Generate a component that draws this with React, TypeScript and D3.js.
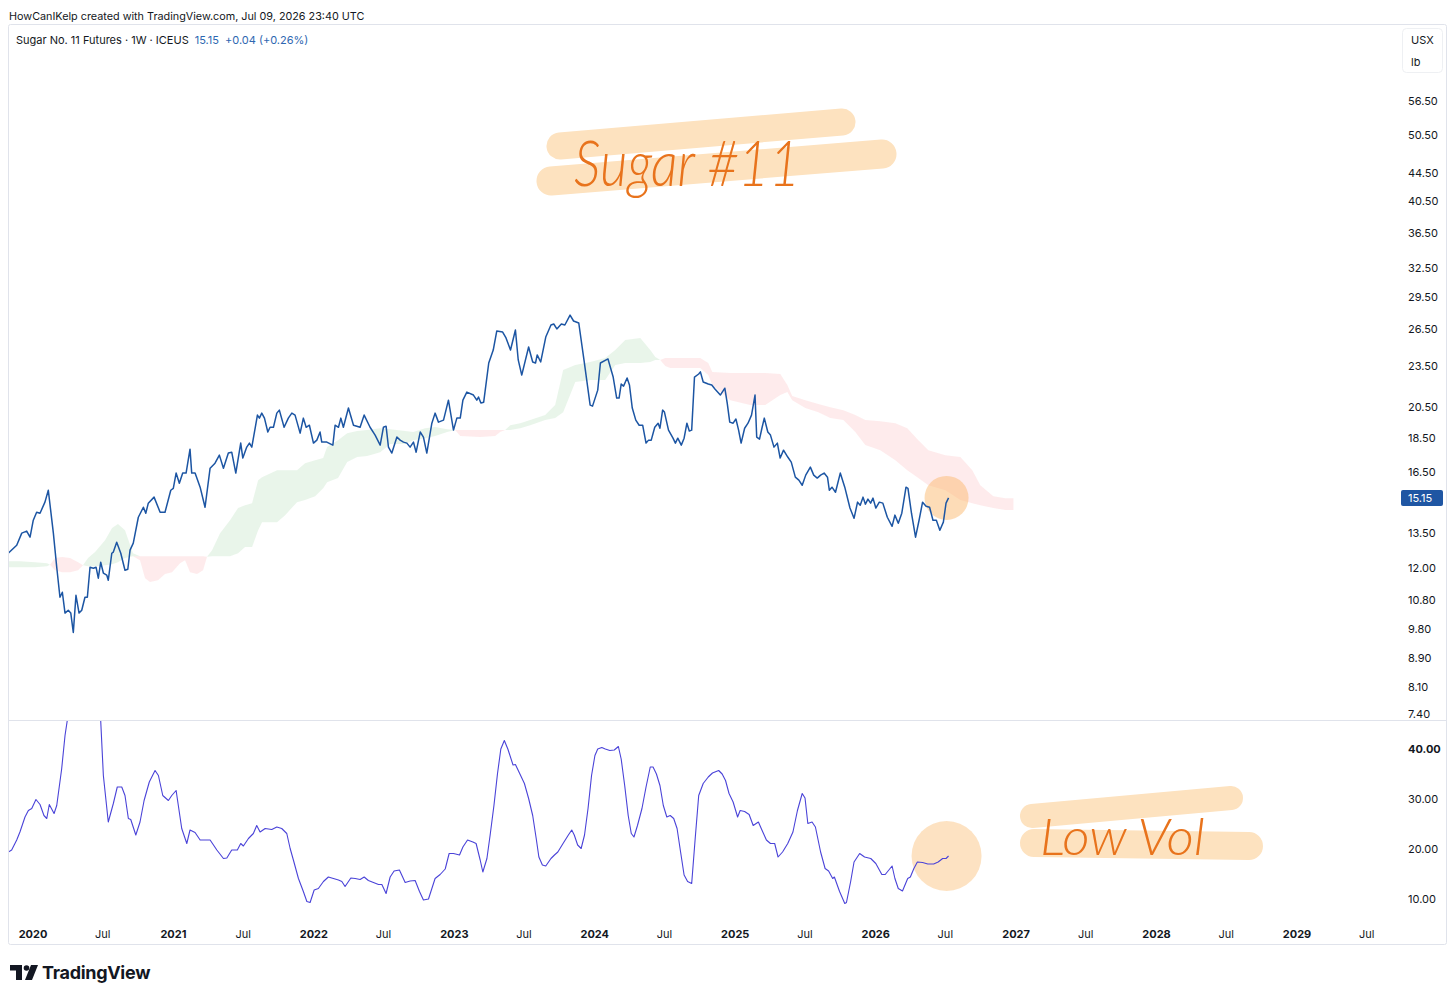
import React from 'react';
import * as d3 from 'd3';

// ---------- DATA ----------
// Weekly close, Sugar No. 11 (time as decimal year)
const priceT = [
  2019.824, 2019.884, 2019.920, 2019.955, 2019.979, 2020.002, 2020.026, 2020.050, 2020.085, 2020.109,
  2020.145, 2020.169, 2020.192, 2020.209, 2020.228, 2020.251, 2020.269, 2020.287, 2020.306, 2020.328,
  2020.347, 2020.370, 2020.387, 2020.406, 2020.430, 2020.449, 2020.465, 2020.482, 2020.501, 2020.525,
  2020.536, 2020.561, 2020.572, 2020.596, 2020.625, 2020.655, 2020.675, 2020.691, 2020.714, 2020.750,
  2020.786, 2020.803, 2020.821, 2020.862, 2020.905, 2020.940, 2020.981, 2020.999, 2021.019, 2021.042,
  2021.066, 2021.090, 2021.118, 2021.130, 2021.154, 2021.190, 2021.225, 2021.261, 2021.296, 2021.327,
  2021.356, 2021.391, 2021.415, 2021.444, 2021.479, 2021.494, 2021.522, 2021.541, 2021.558, 2021.598,
  2021.612, 2021.629, 2021.648, 2021.672, 2021.688, 2021.712, 2021.736, 2021.754, 2021.788, 2021.818,
  2021.843, 2021.866, 2021.902, 2021.925, 2021.945, 2021.968, 2021.997, 2022.021, 2022.044, 2022.056,
  2022.092, 2022.135, 2022.151, 2022.175, 2022.192, 2022.210, 2022.246, 2022.282, 2022.329, 2022.358,
  2022.400, 2022.436, 2022.472, 2022.495, 2022.514, 2022.531, 2022.555, 2022.591, 2022.614, 2022.638,
  2022.662, 2022.685, 2022.709, 2022.728, 2022.757, 2022.780, 2022.804, 2022.840, 2022.863, 2022.887,
  2022.923, 2022.958, 2022.994, 2023.018, 2023.042, 2023.061, 2023.089, 2023.136, 2023.160, 2023.172,
  2023.189, 2023.209, 2023.245, 2023.277, 2023.302, 2023.344, 2023.368, 2023.400, 2023.435, 2023.455,
  2023.480, 2023.529, 2023.558, 2023.578, 2023.590, 2023.615, 2023.651, 2023.688, 2023.708, 2023.730,
  2023.762, 2023.787, 2023.824, 2023.849, 2023.886, 2023.923, 2023.967, 2023.984, 2024.021, 2024.040,
  2024.094, 2024.131, 2024.156, 2024.173, 2024.188, 2024.205, 2024.230, 2024.247, 2024.267, 2024.292,
  2024.316, 2024.341, 2024.365, 2024.383, 2024.402, 2024.427, 2024.451, 2024.464, 2024.483, 2024.496,
  2024.525, 2024.557, 2024.574, 2024.591, 2024.616, 2024.636, 2024.656, 2024.673, 2024.690, 2024.710,
  2024.740, 2024.752, 2024.772, 2024.808, 2024.833, 2024.857, 2024.894, 2024.926, 2024.943, 2024.961,
  2024.985, 2025.005, 2025.024, 2025.042, 2025.067, 2025.091, 2025.116, 2025.141, 2025.153, 2025.173,
  2025.190, 2025.207, 2025.232, 2025.251, 2025.276, 2025.300, 2025.320, 2025.344, 2025.374, 2025.399,
  2025.428, 2025.453, 2025.477, 2025.502, 2025.535, 2025.559, 2025.584, 2025.608, 2025.633, 2025.657,
  2025.670, 2025.689, 2025.714, 2025.748, 2025.780, 2025.817, 2025.846, 2025.871, 2025.890, 2025.910,
  2025.927, 2025.945, 2025.964, 2025.981, 2026.001, 2026.026, 2026.051, 2026.083, 2026.117, 2026.137,
  2026.161, 2026.186, 2026.216, 2026.230, 2026.255, 2026.284, 2026.309, 2026.334, 2026.359, 2026.384,
  2026.408, 2026.432, 2026.457, 2026.482, 2026.501, 2026.519,
];
const priceV = [
  12.61, 12.95, 13.48, 13.57, 13.30, 14.07, 14.45, 14.40, 14.94, 15.54,
  13.48, 12.04, 10.90, 11.08, 10.34, 10.44, 10.34, 9.70, 10.97, 10.34,
  10.44, 10.90, 10.90, 12.04, 12.00, 12.04, 11.61, 12.24, 11.81, 11.73,
  11.53, 12.61, 12.66, 13.08, 12.61, 11.92, 11.96, 12.74, 13.04, 14.21,
  14.69, 14.40, 14.89, 15.19, 14.45, 14.45, 15.54, 15.64, 16.45, 15.91,
  16.45, 16.45, 17.81, 16.45, 16.45, 15.70, 14.69, 16.72, 17.00, 17.46,
  16.72, 17.58, 17.63, 16.45, 18.17, 17.29, 17.93, 18.17, 17.93, 19.94,
  19.74, 20.07, 19.74, 18.85, 19.15, 19.15, 20.07, 20.27, 19.15, 19.74,
  20.07, 19.94, 18.78, 19.74, 19.15, 19.28, 18.17, 18.35, 18.85, 18.23,
  18.23, 18.05, 19.28, 19.15, 19.74, 19.15, 20.41, 19.28, 19.15, 19.94,
  19.15, 18.66, 18.05, 19.15, 19.22, 17.93, 17.58, 18.54, 18.35, 18.23,
  18.17, 17.93, 18.23, 17.63, 18.85, 18.54, 17.58, 19.41, 20.07, 19.48,
  19.61, 20.95, 18.97, 19.74, 19.74, 20.95, 21.52, 21.31, 20.95, 21.17,
  20.75, 20.81, 23.70, 24.74, 26.35, 26.26, 25.75, 24.74, 26.44, 23.94,
  22.77, 24.99, 23.78, 23.70, 24.34, 23.78, 25.83, 26.88, 26.97, 26.53,
  26.97, 26.88, 27.78, 27.24, 27.06, 23.94, 20.61, 20.54, 21.66, 23.70,
  24.02, 22.62, 21.10, 21.10, 22.10, 21.95, 22.55, 22.03, 20.41, 19.61,
  19.28, 19.28, 18.17, 18.35, 18.35, 19.15, 19.41, 19.09, 20.27, 20.14,
  18.97, 18.47, 18.17, 18.47, 18.05, 18.47, 19.41, 18.91, 18.97, 22.62,
  22.85, 23.01, 22.25, 22.10, 22.03, 21.73, 21.31, 21.80, 20.75, 19.48,
  19.41, 19.68, 18.97, 18.17, 19.09, 19.41, 19.94, 21.31, 18.54, 18.41,
  19.09, 19.74, 18.85, 18.66, 17.93, 18.17, 17.29, 17.75, 17.35, 17.06,
  16.23, 16.07, 15.80, 16.34, 16.78, 16.34, 16.18, 16.34, 16.45, 16.23,
  15.54, 15.70, 15.44, 16.45, 15.70, 14.65, 14.16, 14.94, 14.79, 15.19,
  14.84, 15.09, 14.89, 15.14, 14.65, 14.94, 14.89, 14.21, 13.79, 14.31,
  13.93, 14.40, 15.70, 15.64, 14.40, 13.30, 14.07, 14.94, 14.74, 14.69,
  14.07, 14.07, 13.61, 13.98, 14.89, 15.15,
];

// Ichimoku cloud (Senkou span A / B), projected 26 weeks ahead
const cloudT = [
  2019.822, 2019.907, 2020.014, 2020.100, 2020.121, 2020.157, 2020.207, 2020.264, 2020.321, 2020.356,
  2020.392, 2020.442, 2020.513, 2020.563, 2020.605, 2020.655, 2020.712, 2020.762, 2020.798, 2020.833,
  2020.890, 2020.940, 2020.990, 2021.047, 2021.083, 2021.118, 2021.168, 2021.211, 2021.239,
  2021.275, 2021.332, 2021.403, 2021.460, 2021.510, 2021.560, 2021.603, 2021.631, 2021.738, 2021.795,
  2021.880, 2021.937, 2022.009, 2022.066, 2022.094, 2022.172, 2022.237, 2022.308, 2022.379, 2022.472,
  2022.543, 2022.650, 2022.707, 2022.792, 2022.863, 2022.949, 2023.006,
  2023.042, 2023.184, 2023.291, 2023.326, 2023.362, 2023.398, 2023.469, 2023.540, 2023.647, 2023.718,
  2023.775, 2023.861, 2023.968, 2024.074, 2024.146, 2024.217, 2024.324, 2024.395, 2024.431, 2024.466,
  2024.502, 2024.537, 2024.751, 2024.808, 2024.837, 2024.965, 2025.107, 2025.214, 2025.321, 2025.371,
  2025.406, 2025.499, 2025.592, 2025.677, 2025.770, 2025.855, 2025.926, 2026.033, 2026.140, 2026.225,
  2026.304, 2026.375, 2026.496, 2026.603, 2026.688, 2026.745, 2026.838, 2026.924, 2026.981,
];
const spanA = [
  12.28, 12.28, 12.24, 12.20, 12.14, 11.92, 11.84, 11.84, 11.92, 12.12,
  12.41, 12.66, 13.17, 13.71, 13.89, 13.61, 12.61, 12.32, 11.61, 11.46,
  11.53, 11.77, 11.84, 12.20, 12.32, 11.84, 11.77, 11.92, 12.47,
  12.74, 13.48, 14.07, 14.65, 14.79, 14.89, 16.07, 16.23, 16.61, 16.61,
  16.61, 17.00, 17.17, 17.29, 17.93, 18.35, 18.78, 18.91, 18.97, 19.09,
  19.03, 18.91, 18.85, 19.09, 19.16, 19.03, 18.97,
  18.60, 18.54, 18.60, 18.85, 18.97, 19.28, 19.41, 19.61, 19.94, 20.61,
  23.16, 23.54, 23.78, 24.09, 24.74, 25.58, 25.74, 24.74, 24.17, 23.94,
  23.46, 23.30, 23.30, 22.77, 22.03, 20.95, 20.61, 20.61, 21.31, 21.52,
  20.95, 20.41, 20.13, 19.74, 19.61, 18.85, 18.05, 17.75, 17.17, 16.61,
  16.18, 15.80, 15.54, 15.04, 14.89, 14.79, 14.65, 14.55, 14.55,
];
const spanB = [
  12.04, 12.04, 12.04, 12.08, 12.14, 12.41, 12.45, 12.41, 12.24, 12.12,
  12.08, 12.08, 12.12, 12.16, 12.24, 12.41, 12.49, 12.49, 12.49, 12.49,
  12.49, 12.49, 12.49, 12.49, 12.49, 12.49, 12.49, 12.49, 12.47,
  12.49, 12.49, 12.49, 12.61, 12.87, 12.87, 13.61, 13.98, 13.98, 14.31,
  14.94, 15.04, 15.24, 15.65, 15.96, 16.18, 17.06, 17.35, 17.41, 17.63,
  18.11, 18.11, 18.35, 18.47, 18.60, 18.85, 18.97,
  18.97, 18.97, 18.97, 18.97, 18.97, 18.97, 19.09, 19.28, 19.61, 19.74,
  20.13, 22.25, 22.40, 22.40, 23.54, 23.70, 23.70, 23.78, 23.94, 23.94,
  24.09, 24.09, 24.09, 23.70, 23.00, 22.92, 22.92, 22.92, 22.85, 22.03,
  21.24, 20.95, 20.68, 20.47, 20.27, 19.94, 19.61, 19.54, 19.41, 19.09,
  18.35, 17.75, 17.46, 17.35, 16.61, 15.80, 15.24, 15.14, 15.14,
];

// Historical volatility (lower pane)
const volT = [
  2019.824, 2019.848, 2019.884, 2019.907, 2019.943, 2019.967, 2019.991, 2020.021, 2020.050, 2020.078,
  2020.098, 2020.116, 2020.150, 2020.169, 2020.204, 2020.228, 2020.244, 2020.278, 2020.335, 2020.392,
  2020.442, 2020.482, 2020.501, 2020.536, 2020.572, 2020.600, 2020.632, 2020.655, 2020.679, 2020.696,
  2020.732, 2020.762, 2020.791, 2020.828, 2020.869, 2020.893, 2020.924, 2020.964, 2020.988, 2021.019,
  2021.059, 2021.095, 2021.118, 2021.154, 2021.190, 2021.261, 2021.309, 2021.356, 2021.380, 2021.415,
  2021.455, 2021.479, 2021.498, 2021.534, 2021.569, 2021.593, 2021.617, 2021.653, 2021.700, 2021.736,
  2021.771, 2021.807, 2021.831, 2021.854, 2021.890, 2021.925, 2021.950, 2021.973, 2022.002, 2022.032,
  2022.068, 2022.103, 2022.139, 2022.175, 2022.199, 2022.222, 2022.263, 2022.294, 2022.329, 2022.358,
  2022.388, 2022.424, 2022.460, 2022.484, 2022.514, 2022.543, 2022.571, 2022.609, 2022.650, 2022.685,
  2022.721, 2022.752, 2022.780, 2022.816, 2022.863, 2022.899, 2022.935, 2022.963, 2022.994, 2023.037,
  2023.061, 2023.094, 2023.132, 2023.155, 2023.184, 2023.203, 2023.232, 2023.255, 2023.282, 2023.307,
  2023.331, 2023.356, 2023.381, 2023.418, 2023.435, 2023.467, 2023.499, 2023.529, 2023.558, 2023.583,
  2023.602, 2023.627, 2023.651, 2023.688, 2023.713, 2023.737, 2023.774, 2023.812, 2023.836, 2023.854,
  2023.878, 2023.903, 2023.927, 2023.952, 2023.977, 2024.001, 2024.021, 2024.050, 2024.075, 2024.107,
  2024.139, 2024.168, 2024.188, 2024.213, 2024.238, 2024.260, 2024.279, 2024.304, 2024.336, 2024.365,
  2024.395, 2024.415, 2024.439, 2024.464, 2024.488, 2024.513, 2024.537, 2024.562, 2024.586, 2024.611,
  2024.636, 2024.661, 2024.690, 2024.715, 2024.740, 2024.772, 2024.808, 2024.838, 2024.882, 2024.907,
  2024.931, 2024.956, 2024.985, 2025.017, 2025.035, 2025.067, 2025.099, 2025.128, 2025.165, 2025.190,
  2025.222, 2025.251, 2025.281, 2025.305, 2025.337, 2025.374, 2025.411, 2025.443, 2025.477, 2025.497,
  2025.517, 2025.547, 2025.571, 2025.608, 2025.640, 2025.665, 2025.694, 2025.706, 2025.743, 2025.780,
  2025.792, 2025.822, 2025.846, 2025.886, 2025.921, 2025.965, 2026.001, 2026.044, 2026.068, 2026.117,
  2026.137, 2026.161, 2026.191, 2026.228, 2026.247, 2026.272, 2026.297, 2026.334, 2026.371, 2026.413,
  2026.445, 2026.477, 2026.501, 2026.519,
];
const volV = [
  19.4, 19.8, 21.8, 23.4, 26.4, 27.7, 28.1, 29.9, 28.9, 26.7,
  26.1, 28.9, 27.1, 28.7, 36.0, 42.7, 45.7, 55.0, 62.0, 58.0,
  52.0, 45.7, 34.7, 25.4, 29.1, 32.4, 32.4, 30.7, 26.1, 25.9,
  22.8, 25.4, 29.7, 33.4, 35.7, 34.7, 30.7, 29.7, 30.7, 31.7,
  24.1, 21.1, 23.8, 23.3, 21.8, 21.8, 19.8, 18.1, 18.2, 19.8,
  19.8, 21.1, 20.6, 22.1, 23.1, 24.7, 23.4, 24.1, 23.9, 24.4,
  24.1, 23.1, 20.1, 17.8, 14.1, 11.5, 9.5, 9.3, 11.8, 12.1,
  13.5, 14.4, 14.1, 13.8, 13.5, 12.5, 14.2, 14.1, 13.9, 14.4,
  13.7, 13.3, 12.9, 12.9, 11.1, 14.4, 15.6, 15.8, 13.3, 13.6,
  13.7, 11.5, 9.8, 10.0, 14.1, 14.9, 16.0, 19.1, 19.1, 18.8,
  20.4, 21.8, 21.4, 21.1, 17.8, 15.4, 18.1, 22.8, 28.7, 35.0,
  40.0, 41.7, 40.0, 36.8, 36.9, 35.0, 33.1, 30.1, 26.7, 22.1,
  18.4, 16.8, 16.6, 18.1, 18.8, 19.4, 21.1, 22.8, 23.8, 22.8,
  20.8, 20.1, 22.8, 28.1, 34.7, 38.7, 40.0, 40.3, 40.0, 39.7,
  39.8, 40.5, 38.0, 32.7, 26.7, 23.1, 22.4, 24.7, 28.1, 32.4,
  36.4, 36.4, 35.0, 32.7, 28.7, 26.4, 26.7, 26.1, 24.1, 19.4,
  14.8, 13.5, 13.1, 22.1, 30.7, 33.1, 34.4, 35.2, 35.7, 35.0,
  33.7, 31.1, 29.4, 26.4, 27.7, 27.5, 26.9, 24.7, 25.4, 23.8,
  21.8, 21.1, 21.1, 18.4, 19.4, 21.1, 23.4, 27.7, 31.1, 30.2,
  25.1, 25.4, 24.4, 19.4, 16.1, 15.6, 14.1, 14.4, 11.5, 9.1,
  9.3, 13.5, 17.4, 19.1, 18.4, 18.1, 17.1, 14.9, 14.9, 16.6,
  14.1, 12.1, 11.6, 14.1, 14.4, 16.1, 17.4, 17.3, 17.0, 17.0,
  17.4, 18.1, 18.1, 18.6,
];

const priceTicks = [56.5, 50.5, 44.5, 40.5, 36.5, 32.5, 29.5, 26.5, 23.5, 20.5, 18.5, 16.5, 13.5, 12.0, 10.8, 9.8, 8.9, 8.1, 7.4];
const volTicks = [40, 30, 20, 10];
const yearTicks = [2020, 2021, 2022, 2023, 2024, 2025, 2026, 2027, 2028, 2029];
const julTicks = [2020, 2021, 2022, 2023, 2024, 2025, 2026, 2027, 2028, 2029];
const lastPrice = 15.15;

// ---------- SCALES ----------
const xS = d3.scaleLinear().domain([2020, 2029]).range([33, 1297]);
const yP = d3.scaleLog().domain([7.4, 56.5]).range([714, 101]);
const yV = d3.scaleLinear().domain([10, 40]).range([899, 749]);

const FONT = 'Inter, Roboto, "Liberation Sans", Arial, sans-serif';
const HAND = 'Lato, "Open Sans", sans-serif';
const TXT = '#131722';

export default function App() {
  const pricePath = d3.line<number>().x((_, i) => xS(priceT[i])).y((d) => yP(d))(priceV) || '';
  const volPath = d3.line<number>().x((_, i) => xS(volT[i])).y((d) => yV(d))(volV) || '';
  const green = d3
    .area<number>()
    .x((d) => xS(d))
    .y0((_, i) => yP(spanB[i]))
    .y1((_, i) => yP(Math.max(spanA[i], spanB[i])))(cloudT) || '';
  const red = d3
    .area<number>()
    .x((d) => xS(d))
    .y0((_, i) => yP(spanB[i]))
    .y1((_, i) => yP(Math.min(spanA[i], spanB[i])))(cloudT) || '';

  const fmt = d3.format('.2f');

  return (
    <svg
      width={1456}
      height={1000}
      viewBox="0 0 1456 1000"
      style={{ position: 'absolute', left: 0, top: 0, display: 'block', background: '#ffffff' }}
    >
      <defs>
        <clipPath id="pricePane">
          <rect x={9} y={25} width={1391} height={694} />
        </clipPath>
        <clipPath id="volPane">
          <rect x={9} y={721} width={1391} height={197} />
        </clipPath>
      </defs>
      <rect x={0} y={0} width={1456} height={1000} fill="#ffffff" />

      {/* header */}
      <text x={9} y={20} fontFamily={FONT} fontSize={10.8} fill={TXT}>
        HowCanIKelp created with TradingView.com, Jul 09, 2026 23:40 UTC
      </text>

      {/* frame */}
      <rect x={8.5} y={24.5} width={1438} height={920} fill="none" stroke="#e0e3eb" strokeWidth={1} rx={2} />
      <line x1={9} x2={1446} y1={720.5} y2={720.5} stroke="#e0e3eb" strokeWidth={1} />

      {/* legend */}
      <text x={16} y={44} fontFamily={FONT} fontSize={11} fill={TXT}>
        Sugar No. 11 Futures · 1W · ICEUS
        <tspan dx={6} fill="#2e67b1">15.15</tspan>
        <tspan dx={6} fill="#2e67b1">+0.04 (+0.26%)</tspan>
      </text>

      {/* price pane */}
      <g clipPath="url(#pricePane)">
        <path d={green} fill="rgba(76,175,80,0.12)" />
        <path d={red} fill="rgba(242,54,69,0.10)" />
        <circle cx={xS(priceT[priceT.length - 1]) - 2} cy={yP(lastPrice)} r={22} fill="rgba(251,186,112,0.5)" />
        <path d={pricePath} fill="none" stroke="#1c55a3" strokeWidth={1.5} strokeLinejoin="round" />
      </g>

      {/* vol pane */}
      <g clipPath="url(#volPane)">
        <circle cx={xS(volT[volT.length - 1]) - 2} cy={856} r={35} fill="rgba(251,190,120,0.45)" />
        <path d={volPath} fill="none" stroke="#4a43d8" strokeWidth={1.1} strokeLinejoin="round" />
      </g>

      {/* annotation: Sugar #11 */}
      <g>
        <line x1={560} y1={146} x2={842} y2={122} stroke="#fde2bf" strokeWidth={27} strokeLinecap="round" />
        <line x1={551} y1={181} x2={882} y2={154} stroke="#fde2bf" strokeWidth={29} strokeLinecap="round" />
        <text
          x={574}
          y={186}
          fontFamily={HAND}
          fontStyle="italic"
          fontWeight={300}
          fontSize={64}
          fill="#e8731c"
          textLength={226}
          lengthAdjust="spacingAndGlyphs"
        >
          Sugar #11
        </text>
      </g>

      {/* annotation: Low Vol */}
      <g>
        <line x1={1032} y1={816} x2={1231} y2={798} stroke="#fde2bf" strokeWidth={24} strokeLinecap="round" />
        <line x1={1034} y1={843} x2={1249} y2={846} stroke="#fde2bf" strokeWidth={28} strokeLinecap="round" />
        <text
          x={1040}
          y={855}
          fontFamily={HAND}
          fontStyle="italic"
          fontWeight={300}
          fontSize={52}
          fill="#e8731c"
          textLength={165}
          lengthAdjust="spacingAndGlyphs"
        >
          Low Vol
        </text>
      </g>

      {/* right price axis */}
      <rect x={1402.5} y={28.5} width={40} height={44} rx={4} fill="#ffffff" stroke="#eef0f3" />
      <text x={1411} y={44} fontFamily={FONT} fontSize={11} fill={TXT}>USX</text>
      <text x={1411} y={66} fontFamily={FONT} fontSize={11} fill={TXT}>lb</text>
      {priceTicks.map((t) => (
        <text key={'p' + t} x={1408} y={yP(t) + 4} fontFamily={FONT} fontSize={11} fill={TXT}>
          {fmt(t)}
        </text>
      ))}
      <rect x={1401} y={yP(lastPrice) - 8} width={42} height={16} rx={2} fill="#1f56a3" />
      <text x={1408} y={yP(lastPrice) + 4} fontFamily={FONT} fontSize={11} fill="#ffffff">
        {fmt(lastPrice)}
      </text>

      {/* vol axis */}
      {volTicks.map((t) => (
        <text
          key={'v' + t}
          x={1408}
          y={yV(t) + 4}
          fontFamily={FONT}
          fontSize={11}
          fontWeight={t === 40 ? 700 : 400}
          fill={TXT}
        >
          {fmt(t)}
        </text>
      ))}

      {/* time axis */}
      {yearTicks.map((t) => (
        <text key={'y' + t} x={xS(t)} y={938} textAnchor="middle" fontFamily={FONT} fontSize={11} fontWeight={700} fill={TXT}>
          {t}
        </text>
      ))}
      {julTicks.map((t) => (
        <text key={'j' + t} x={xS(t + 0.496)} y={938} textAnchor="middle" fontFamily={FONT} fontSize={11} fill={TXT}>
          Jul
        </text>
      ))}

      {/* TradingView logo */}
      <g fill="#131722">
        <path d="M10 965 H22 V980 H16 V970.5 H10 Z" />
        <circle cx={26.5} cy={968} r={2.8} />
        <path d="M31 965 H38 L32 980 H25 Z" />
        <text x={42} y={979} fontFamily={FONT} fontSize={18} fontWeight={700} letterSpacing={-0.3}>
          TradingView
        </text>
      </g>
    </svg>
  );
}
